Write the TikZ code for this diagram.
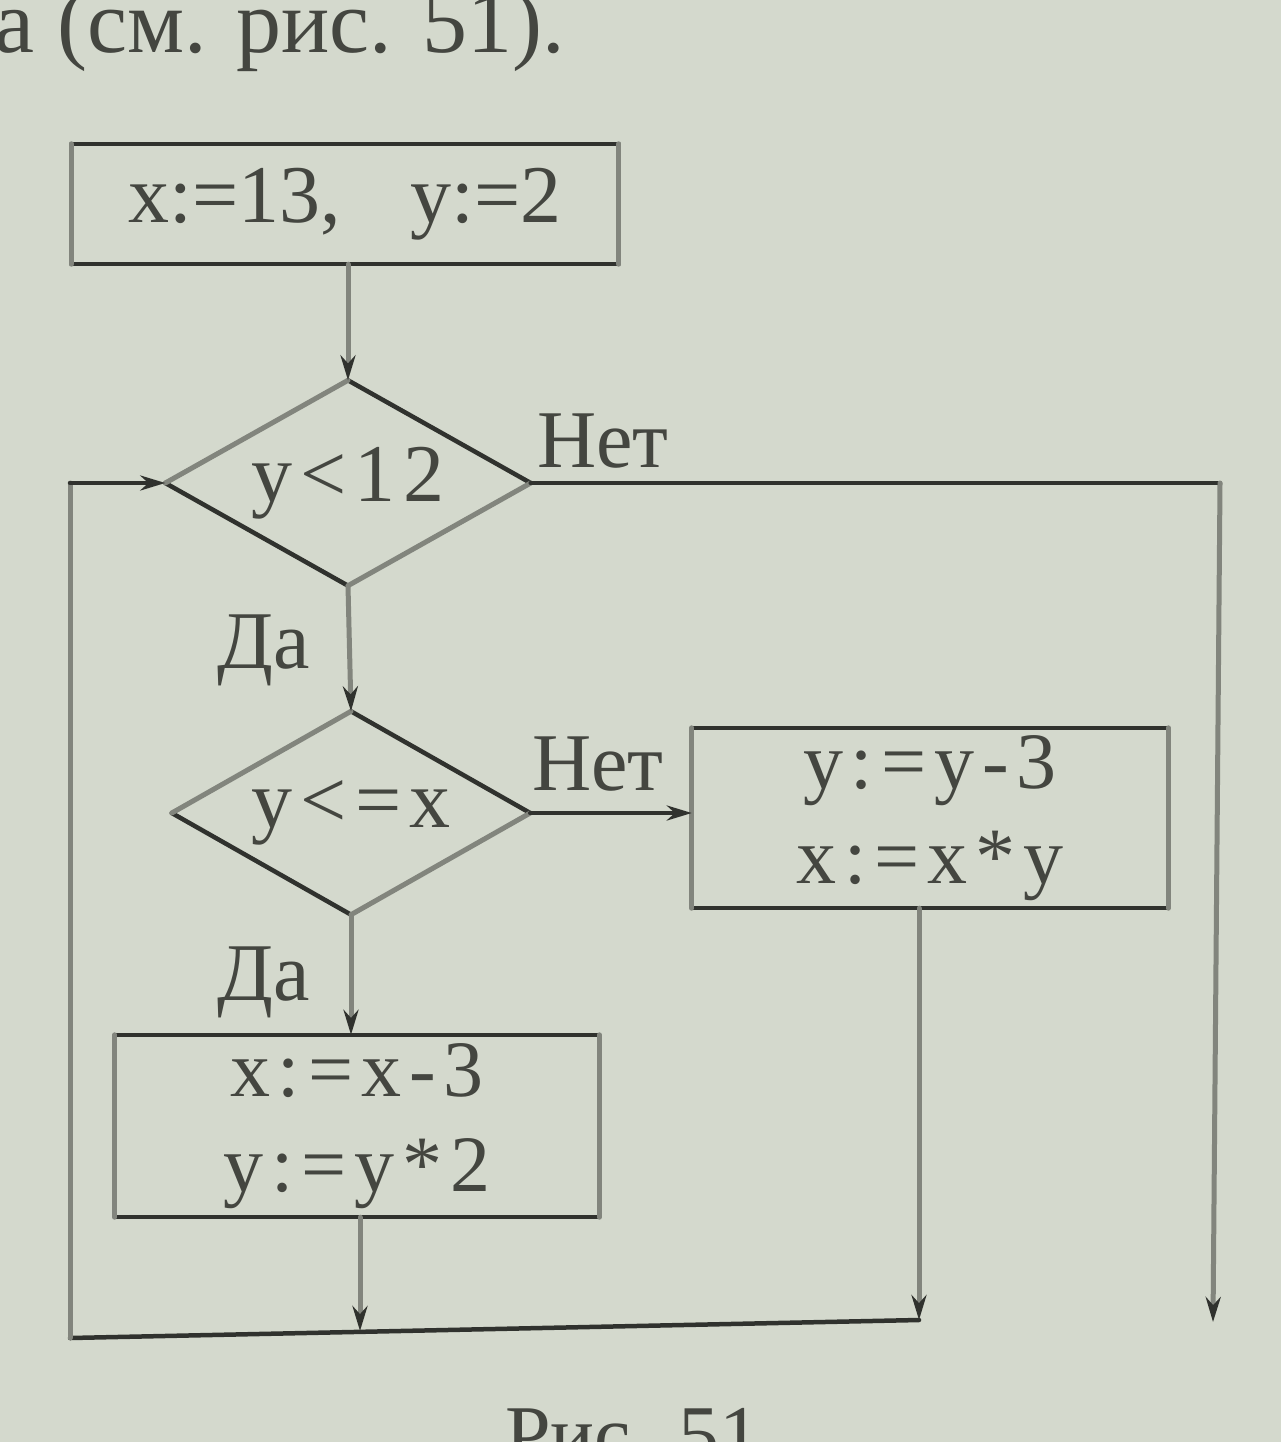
\documentclass[tikz,border=0pt]{standalone}
\usepackage{fontspec}
\setmainfont{Liberation Serif}
\newfontfamily\spc[LetterSpace=10]{Liberation Serif}
\usetikzlibrary{shapes.geometric,arrows.meta}
\definecolor{paper}{RGB}{212,217,205}
\definecolor{ink}{RGB}{48,50,46}
\definecolor{inklight}{RGB}{130,133,125}
\definecolor{txt}{RGB}{68,70,64}
\tikzset{
  dk/.style={draw=ink,line width=4.5pt,line cap=round},
  lt/.style={draw=inklight,line width=5pt,line cap=round},
  tip/.style={-{Stealth[length=25pt,width=15pt,color=ink]}},
  lbl/.style={text=txt,font=\fontsize{82}{95}\selectfont,inner sep=0pt},
  boxnode/.style={rectangle,inner sep=0pt,text=txt,align=center,font=\spc\fontsize{80}{95}\selectfont},
  decnode/.style={diamond,aspect=1.78,inner sep=0pt,text=txt,font=\spc\fontsize{82}{95}\selectfont}
}
\begin{document}
\begin{tikzpicture}[x=1pt,y=-1pt]
\fill[paper] (0,0) rectangle (1281,1442);
\useasboundingbox (0,0) rectangle (1281,1442);

% nodes
\node[boxnode,font=\fontsize{82}{95}\selectfont,minimum width=547pt,minimum height=120pt] (b1) at (345,204) {x:=13,\hspace{70pt}y:=2};
\node[decnode,minimum width=365pt,minimum height=205pt] (d1) at (348,483) {y<12};
\node[decnode,minimum width=358pt,minimum height=203pt] (d2) at (351,813) {y<=x};
\node[boxnode,minimum width=476pt,minimum height=180pt] (b3) at (930,818) {y:=y-3\\x:=x*y};
\node[boxnode,minimum width=484pt,minimum height=182pt] (b2) at (357,1126) {x:=x-3\\y:=y*2};

% labels
\node[lbl,anchor=base west] (n1) at (537,467) {Нет};
\node[lbl,anchor=base west] (n2) at (532,790) {Нет};
\node[lbl,anchor=base east] (y1) at (310,668) {Да};
\node[lbl,anchor=base east] (y2) at (310,1000) {Да};
\node[lbl,anchor=base east,font=\fontsize{90}{100}\selectfont] (cap) at (565,53) {а (см. рис. 51).};
\node[lbl,anchor=base west] (fig) at (505,1462) {Рис. 51};

% box outlines
\foreach \n in {b1,b2,b3}{
  \draw[dk] (\n.north west) -- (\n.north east) (\n.south west) -- (\n.south east);
  \draw[lt] (\n.north west) -- (\n.south west) (\n.north east) -- (\n.south east);
}
% diamond outlines
\foreach \n in {d1,d2}{
  \draw[dk] (\n.north) -- (\n.east) (\n.west) -- (\n.south);
  \draw[lt] (\n.west) -- (\n.north) (\n.south) -- (\n.east);
}

% helper coordinates
\coordinate (tl) at (70,483);
\coordinate (bl) at (70,1338);
\coordinate (tr) at (1220,483);
\coordinate (er) at (1213,1322);
\coordinate (br) at (919,1320);
\coordinate (jn) at (360,1331);

% connectors
\draw[lt,tip] (b1.south -| d1.north) -- (d1.north);
\draw[dk] (d1.east) -- (tr);
\draw[lt,tip] (tr) -- (er);
\draw[lt,tip] (d1.south) -- (d2.north);
\draw[dk,tip] (d2.east) -- (d2.east -| b3.west);
\draw[lt,tip] (d2.south) -- (d2.south |- b2.north);
\draw[lt,tip] (b3.south -| br) -- (br);
\draw[lt,tip] (b2.south -| jn) -- (jn);
\draw[dk] (bl) -- (br);
\draw[lt] (bl) -- (tl);
\draw[dk,tip] (tl) -- (d1.west);
\end{tikzpicture}
\end{document}
